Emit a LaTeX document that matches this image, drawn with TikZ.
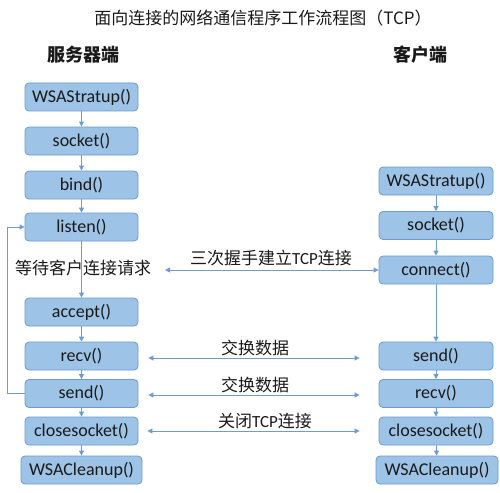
\documentclass[tikz,border=0pt]{standalone}
\usepackage{fontspec}
\setmainfont{Carlito}
\newfontfamily\cjk{Noto Sans CJK SC}
\usetikzlibrary{arrows.meta}
\definecolor{boxfill}{HTML}{9DC3E6}
\definecolor{boxline}{HTML}{6A9AD0}
\definecolor{arrowc}{HTML}{6E9CD2}
\definecolor{txt}{HTML}{1A1A1A}
\begin{document}
\begin{tikzpicture}[x=1pt,y=-1pt,
  fn/.style={draw=boxline, fill=boxfill, rounded corners=4pt, line width=0.8pt,
    minimum height=28pt, minimum width=113pt, inner sep=0pt, text=txt,
    font=\fontsize{18}{18}\selectfont},
  flow/.style={draw=arrowc, line width=0.8pt, -{Triangle[length=5pt,width=5pt]}},
  both/.style={draw=arrowc, line width=0.8pt, {Triangle[length=5pt,width=5pt]}-{Triangle[length=5pt,width=5pt]}},
  lab/.style={font=\cjk\fontsize{17}{17}\selectfont, inner sep=0pt, text=txt}]
\useasboundingbox (0,0) rectangle (500,492);

% title and headers
\node[lab] (title) at (263,18) {面向连接的网络通信程序工作流程图（TCP）};
\node[lab, font=\cjk\bfseries\fontsize{18}{18}\selectfont] (hs) at (83,55) {服务器端};
\node[lab, font=\cjk\bfseries\fontsize{18}{18}\selectfont] (hc) at (420,55) {客户端};

% server column
\node[fn] (s1) at (81.5,97) {WSAStratup()};
\node[fn] (s2) at (81.5,141) {socket()};
\node[fn] (s3) at (81.5,185) {bind()};
\node[fn] (s4) at (81.5,227) {listen()};
\node[fn] (s5) at (81.5,312) {accept()};
\node[fn] (s6) at (81.5,356) {recv()};
\node[fn] (s7) at (81.5,393.5) {send()};
\node[fn] (s8) at (81.5,431) {closesocket()};
\node[fn, minimum width=121pt] (s9) at (81.5,470) {WSACleanup()};

% client column
\node[fn, minimum width=114pt] (c1) at (436,181) {WSAStratup()};
\node[fn, minimum width=114pt] (c2) at (436,225.5) {socket()};
\node[fn, minimum width=114pt] (c3) at (436,270) {connect()};
\node[fn, minimum width=114pt] (c4) at (436,356) {send()};
\node[fn, minimum width=114pt] (c5) at (436,393.5) {recv()};
\node[fn, minimum width=114pt] (c6) at (436,431) {closesocket()};
\node[fn, minimum width=122pt] (c7) at (437,470) {WSACleanup()};

% vertical flows
\draw[flow] (s1) -- (s2);
\draw[flow] (s2) -- (s3);
\draw[flow] (s3) -- (s4);
\draw[flow] (s4) -- (s5);
\draw[flow] (s5) -- (s6);
\draw[flow] (s6) -- (s7);
\draw[flow] (s7) -- (s8);
\draw[flow] (s8) -- (s9);
\draw[flow] (c1) -- (c2);
\draw[flow] (c2) -- (c3);
\draw[flow] (c3) -- (c4);
\draw[flow] (c4) -- (c5);
\draw[flow] (c5) -- (c6);
\draw[flow] (c6) -- (c7);

% loop back
\coordinate (lp) at (7,393.5);
\draw[flow] (s7.west) -- (lp) |- (s4.west);

% labels
\node[lab] (wait) at (83,268) {等待客户连接请求};
\node[lab] (shake) at (271,258) {三次握手建立\rmfamily TCP\cjk 连接};
\node[lab] (x1) at (255,348) {交换数据};
\node[lab] (x2) at (255,385) {交换数据};
\node[lab] (cl) at (265,421) {关闭\rmfamily TCP\cjk 连接};

% horizontal exchanges
\coordinate (hl) at (165,270);
\draw[both] (hl) -- (c3.west);
\draw[both, shorten <=10pt, shorten >=19pt] (s6.east |- 0,358) -- (c4.west |- 0,358);
\draw[both, shorten <=10pt, shorten >=19pt] (s7.east |- 0,395) -- (c5.west |- 0,395);
\draw[both, shorten <=9pt, shorten >=19pt] (s8.east) -- (c6.west);
\end{tikzpicture}
\end{document}
